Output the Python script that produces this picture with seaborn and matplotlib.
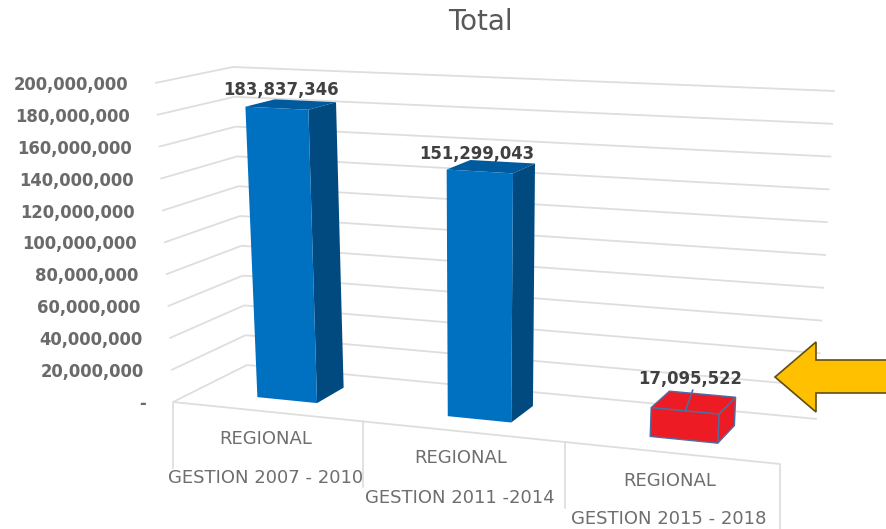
import numpy as np
import matplotlib
matplotlib.use("Agg")
import matplotlib.pyplot as plt
from matplotlib.transforms import Transform
import pandas as pd
import seaborn as sns

categories = ["GESTION 2007 - 2010", "GESTION 2011 -2014", "GESTION 2015 - 2018"]
group_label = "REGIONAL"
totals = [183837346, 151299043, 17095522]
tick_values = [20000000 * i for i in range(11)]
tick_labels = ["-"] + [f"{v:,}" for v in tick_values[1:]]
bar_colors = ["#0070C0", "#0070C0", "#ED1C24"]
side_colors = ["#004A80", "#004A80", "#ED1C24"]
top_colors = ["#005A9E", "#005A9E", "#ED1C24"]

# corners of the 3d box in image pixels: [depth][value][left/right]
BOX = np.array([
    [[(173, 402), (780, 464)], [(155, 83), (800, 113)]],
    [[(247, 365), (817, 419)], [(233, 67), (835, 91)]],
], dtype=float)
VMAX = 200000000
N = len(categories)
BAR_WIDTH = 0.32
W0, W1 = 0.3, 0.7
GRID = "#DEDEDE"


def project(u, v, w):
    # category position, value, depth -> pixel
    u = np.asarray(u, dtype=float)
    t = 0.3038 * u / (1 - 0.0295 * u)  # columns get wider to the right
    s = np.asarray(v, dtype=float) / VMAX
    w = np.asarray(w, dtype=float)
    t, s, w = [a[..., None] for a in np.broadcast_arrays(t, s, w)]
    face = []
    for d in range(2):
        bottom = BOX[d, 0, 0] * (1 - t) + BOX[d, 0, 1] * t
        top = BOX[d, 1, 0] * (1 - t) + BOX[d, 1, 1] * t
        face.append(bottom * (1 - s) + top * s)
    return face[0] * (1 - w) + face[1] * w


class BoxPlane(Transform):
    input_dims = 2
    output_dims = 2
    is_separable = False

    def __init__(self, plane):
        super().__init__()
        self.plane = plane

    def transform_non_affine(self, values):
        values = np.asarray(values, dtype=float)
        # seaborn puts the categories on 0, 1, 2 so shift to the column middle
        return project(values[:, 0] + 0.5, values[:, 1], self.plane)


sns.set_style("white")
fig = plt.figure(figsize=(8.87, 5.29), dpi=100)
ax = fig.add_axes([0, 0, 1, 1])

df = pd.DataFrame({"period": categories, "total": totals})
sns.barplot(data=df, x="period", y="total", hue="period", palette=bar_colors,
            width=BAR_WIDTH, saturation=1, legend=False, ax=ax, zorder=5)

ax.set_xlim(0, 887)
ax.set_ylim(529, 0)
ax.axis("off")


def line(u, v, w, **kw):
    p = project(u, v, w)
    ax.plot(p[:, 0], p[:, 1], color=GRID, lw=1.3, zorder=1, solid_capstyle="butt", **kw)


# walls and floor
for v in tick_values:
    line([0, 0], [v, v], [0, 1])
    line([0, N], [v, v], [1, 1])
line([0, N], [0, 0], [0, 0])

for i in range(N + 1):
    p = project(i, 0, 0)
    ax.plot([p[0], p[0]], [p[1], p[1] + 66], color=GRID, lw=1.3, zorder=1)

# axis labels
for v, lab in zip(tick_values, tick_labels):
    p = project(0, v, 0)
    ax.text(p[0] - 27, p[1] + 2, lab, ha="right", va="center", fontsize=11.9,
            fontweight="bold", color="#6A6A6A")

# bars: front from seaborn, side and top from its rectangles
for i, patch in enumerate(list(ax.patches)):
    patch.set_transform(BoxPlane(W0) + ax.transData)
    u0 = patch.get_x() + 0.5
    u1 = u0 + patch.get_width()
    h = patch.get_height()
    edge = "#4A6FA5" if i == 2 else "none"
    patch.set_edgecolor(edge)
    patch.set_linewidth(1 if i == 2 else 0)
    side = project([u1, u1, u1, u1], [0, h, h, 0], [W0, W0, W1, W1])
    top = project([u0, u1, u1, u0], [h, h, h, h], [W0, W0, W1, W1])
    ax.fill(side[:, 0], side[:, 1], fc=side_colors[i], ec=edge, lw=1, zorder=4)
    ax.fill(top[:, 0], top[:, 1], fc=top_colors[i], ec=edge, lw=1, zorder=4)

# leader line of the small bar
p0 = project(2.5, totals[2], W0 + 0.02)
ax.plot([p0[0], p0[0] + 7], [p0[1], p0[1] - 20], color="#4A6FA5", lw=1.2, zorder=6)

# data labels
label_pos = [(281, 90), (477, 154), (690, 379)]
for (x, y), v in zip(label_pos, totals):
    ax.text(x, y, f"{v:,}", ha="center", va="center", fontsize=11.9,
            fontweight="bold", color="#404040", zorder=7)

# category labels
group_pos = [(266, 439), (461, 458), (670, 481)]
name_pos = [(266, 478), (460, 498), (669, 519)]
for (x, y) in group_pos:
    ax.text(x, y, group_label, ha="center", va="center", fontsize=13, color="#6E6E6E")
for (x, y), name in zip(name_pos, categories):
    ax.text(x, y, name, ha="center", va="center", fontsize=13, color="#6E6E6E")

ax.text(480, 22, "Total", ha="center", va="center", fontsize=20, color="#595959")

# yellow arrow
arrow_x = [775, 816, 816, 900, 900, 816, 816]
arrow_y = [377, 342, 360, 360, 393, 393, 412]
ax.fill(arrow_x, arrow_y, fc="#FFC000", ec="#5F4E14", lw=1.2, zorder=8)

fig.savefig("out.png", dpi=100)
